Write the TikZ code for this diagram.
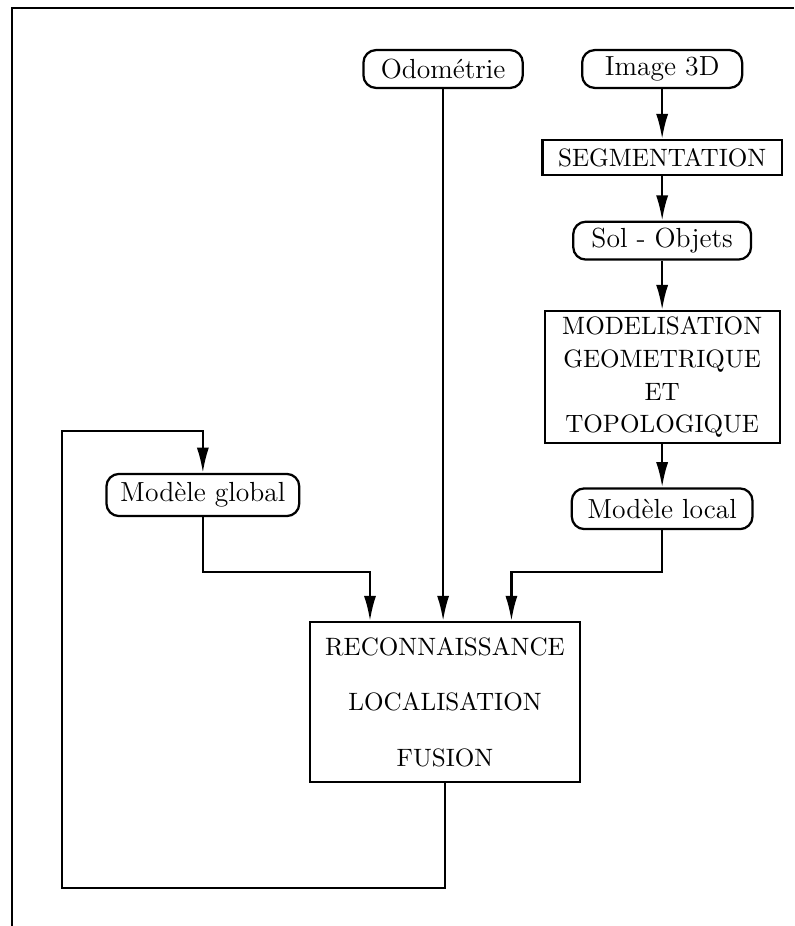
\documentclass[tikz,border=0pt]{standalone}
\usepackage{tikz}
\usetikzlibrary{positioning, arrows.meta}

\begin{document}
\begin{tikzpicture}[
        data/.style={rectangle, draw, rounded corners=5pt, line width=0.9pt, text centered, minimum height=0.53cm, inner sep=2pt, font=\fontsize{11}{13}\selectfont},
        process/.style={rectangle, draw, line width=0.9pt, align=center, inner sep=2pt},
        link/.style={draw, -{Latex[length=10pt, width=4.8pt]}, line width=0.9pt},
        frame/.style={draw, line width=1.1pt}
        ]

        % Frame
        \useasboundingbox (0,0) rectangle (11.116,-12.964);
        \draw[frame] (0.168,-12.964) -- (0.168,-0.112) -- (11.116,-0.112);

        % Nodes
        \node[data, minimum width=2.24cm] (image) at (9.27,-0.966) {Image 3D};
        \node[data, minimum width=2.23cm, left=0.8cm of image] (odometrie) {Odométrie};
        \node[process, minimum width=3.35cm, minimum height=0.49cm, below=0.7cm of image] (segmentation) {SEGMENTATION};
        \node[data, minimum width=2.49cm, below=0.62cm of segmentation] (solobjets) {Sol - Objets};
        \node[process, minimum width=3.29cm, minimum height=1.85cm, below=0.69cm of solobjets] (modelisation) {MODELISATION\\[1pt]GEOMETRIQUE\\[1pt]ET\\[1pt]TOPOLOGIQUE};
        \node[data, minimum width=2.53cm, minimum height=0.57cm, below=0.6cm of modelisation] (local) {Modèle local};
        \node[data, minimum width=2.7cm, minimum height=0.59cm] (global) at (2.84,-6.93) {Modèle global};
        \node[process, minimum width=3.79cm, minimum height=2.24cm] (fusion) at (6.23,-9.83) {RECONNAISSANCE\\[10pt]LOCALISATION\\[10pt]FUSION};

        \coordinate (join) at (0,-8.01);
        \coordinate (loop) at (0.868,-12.43);

        % Links
        \draw[link] (image) -- (segmentation);
        \draw[link] (segmentation) -- (solobjets);
        \draw[link] (solobjets) -- (modelisation);
        \draw[link] (modelisation) -- (local);
        \draw[link] (odometrie) -- (odometrie |- fusion.north);
        \draw[link] (global.south) -- (global.south |- join) -| ([xshift=-1.05cm]fusion.north);
        \draw[link] (local.south) -- (local.south |- join) -| ([xshift=0.93cm]fusion.north);
        \draw[link] (fusion.south) |- (loop) |- ([yshift=0.59cm]global.north) -- (global.north);

    \end{tikzpicture}
\end{document}
